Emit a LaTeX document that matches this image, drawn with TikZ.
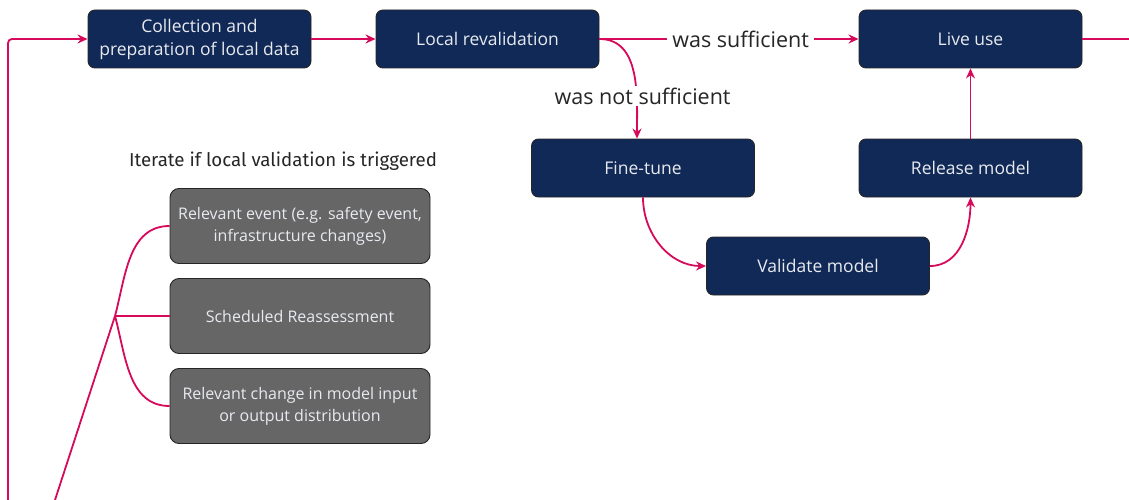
\documentclass[tikz,border=0pt]{standalone}
\usepackage{fontspec}
\setmainfont{Open Sans}
\newfontfamily\titlefont{Fira Sans}
\usetikzlibrary{arrows.meta,calc}
\definecolor{navy}{HTML}{112956}
\definecolor{gbox}{HTML}{666666}
\definecolor{pink}{HTML}{D6095A}
\definecolor{boxtext}{HTML}{E8EAF0}
\tikzset{
  navybox/.style={draw=black!85, line width=0.9pt, fill=navy, rounded corners=7pt,
    minimum width=223pt, minimum height=58pt, text=boxtext, align=center,
    font=\fontsize{17.5}{23}\selectfont, inner sep=1pt},
  graybox/.style={draw=black!85, line width=0.9pt, fill=gbox, rounded corners=9pt,
    minimum width=260pt, minimum height=75pt, text=boxtext, align=center,
    font=\fontsize{16}{22}\selectfont, inner sep=1pt},
  conn/.style={draw=pink, line width=1.8pt},
  arr/.style={conn, -{Stealth[length=10pt,width=9pt]}},
  lbl/.style={fill=white, text=black!85, font=\fontsize{21.5}{24}\selectfont, inner xsep=5pt, inner ysep=2pt},
}
\begin{document}
\begin{tikzpicture}[x=1pt,y=-1pt]
\useasboundingbox (0,0) rectangle (1129,500);
\node[navybox] (coll) at (199.5,39) {Collection and\\preparation of local data};
\node[navybox] (lr) at (487.5,39) {Local revalidation};
\node[navybox] (lu) at (970.5,39) {Live use};
\node[navybox] (ft) at (643,168) {Fine-tune};
\node[navybox] (rm) at (970.5,168) {Release model};
\node[navybox] (vm) at (818,266) {Validate model};
\node[graybox] (g1) at (300,226) {Relevant event (e.g. safety event,\\infrastructure changes)};
\node[graybox] (g2) at (300,316) {Scheduled Reassessment};
\node[graybox] (g3) at (300,406) {Relevant change in model input\\or output distribution};
\node[font=\titlefont\fontsize{18.7}{22}\selectfont, text=black!85] (title) at (283,161) {Iterate if local validation is triggered};

\coordinate (s1) at (8,500);
\coordinate (s2) at (55,500);
\coordinate (j) at (115,316);
\coordinate (e) at (1129,39);

\draw[arr, rounded corners=4pt] (s1) |- (coll.west);
\draw[arr] (coll.east) -- (lr.west);
\draw[arr] (lr.east) -- node[lbl, pos=0.545] {was sufficient} (lu.west);
\draw[arr] (lr.east) to[out=0,in=90] node[lbl, pos=0.68, xshift=6pt] {was not sufficient} ([xshift=-6pt]ft.north);
\draw[arr] (ft.south) to[out=-90,in=180] (vm.west);
\draw[arr] (vm.east) to[out=0,in=-90] (rm.south);
\draw[arr] (rm.north) -- (lu.south);
\draw[conn] (lu.east) -- (e);

\draw[conn] (s2) -- (j);
\draw[conn] (j) to[out=75,in=180] (g1.west);
\draw[conn] (j) -- (g2.west);
\draw[conn] (j) to[out=-75,in=180] (g3.west);
\end{tikzpicture}
\end{document}
